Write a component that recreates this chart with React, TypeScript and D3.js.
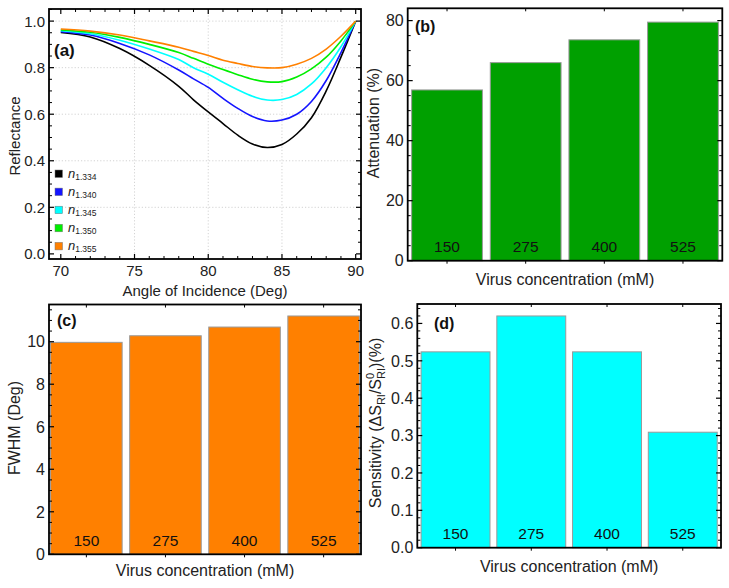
import * as d3 from 'd3';

const FONT = '"Liberation Sans", Arial, sans-serif';

// (a) reflectance curves
const angles = [70, 72, 74, 76, 78, 79, 80, 81, 82, 83, 84, 85, 86, 87, 88, 89, 90];
const refl1334 = [0.951, 0.932, 0.882, 0.81, 0.72, 0.662, 0.61, 0.56, 0.51, 0.472, 0.457, 0.47, 0.515, 0.585, 0.7, 0.845, 1.0];
const refl1340 = [0.955, 0.94, 0.904, 0.855, 0.79, 0.752, 0.715, 0.668, 0.625, 0.59, 0.571, 0.575, 0.6, 0.655, 0.745, 0.865, 1.0];
const refl1345 = [0.959, 0.946, 0.918, 0.88, 0.835, 0.8, 0.772, 0.737, 0.705, 0.677, 0.661, 0.663, 0.685, 0.73, 0.8, 0.89, 1.0];
const refl1350 = [0.962, 0.952, 0.93, 0.9, 0.865, 0.84, 0.815, 0.792, 0.77, 0.75, 0.739, 0.74, 0.76, 0.795, 0.845, 0.915, 1.0];
const refl1355 = [0.966, 0.957, 0.94, 0.915, 0.888, 0.87, 0.852, 0.832, 0.818, 0.805, 0.799, 0.8, 0.815, 0.84, 0.88, 0.935, 1.0];
const indexLabels = ['1.334', '1.340', '1.345', '1.350', '1.355'];
const curveColors = ['#000000', '#1414ff', '#00ffff', '#00ee00', '#ff8000'];
const angleTicks = [70, 75, 80, 85, 90];
const reflTicks = [0, 0.2, 0.4, 0.6, 0.8, 1.0];

// (b)-(d) bar panels
const concentrations = ['150', '275', '400', '525'];
const attenuation = [56.9, 66.0, 73.6, 79.5];
const attenTicks = [0, 20, 40, 60, 80];
const fwhm = [9.97, 10.28, 10.69, 11.21];
const fwhmTicks = [0, 2, 4, 6, 8, 10];
const sensitivity = [0.524, 0.62, 0.524, 0.309];
const sensTicks = [0, 0.1, 0.2, 0.3, 0.4, 0.5, 0.6];

type Lin = d3.ScaleLinear<number, number>;

function YTicks({ y, left, right, major, minorStep, fmt, fs }: {
  y: Lin; left: number; right: number; major: number[]; minorStep: number; fmt: (v: number) => string; fs: number;
}) {
  const [d0, d1] = y.domain();
  const minor = d3.range(Math.ceil(d0 / minorStep) * minorStep, d1, minorStep)
    .filter((v) => !major.some((m) => Math.abs(m - v) < minorStep / 10));
  return (
    <g>
      {minor.map((v, i) => (
        <g key={'m' + i} stroke="#000" strokeWidth={1}>
          <line x1={left} x2={left + 3} y1={y(v)} y2={y(v)} />
          <line x1={right} x2={right - 3} y1={y(v)} y2={y(v)} />
        </g>
      ))}
      {major.map((v, i) => (
        <g key={'M' + i}>
          <line x1={left} x2={left + 5} y1={y(v)} y2={y(v)} stroke="#000" strokeWidth={1.2} />
          <line x1={right} x2={right - 5} y1={y(v)} y2={y(v)} stroke="#000" strokeWidth={1.2} />
          <text x={left - 4} y={y(v)} dy="0.36em" textAnchor="end" fontSize={fs} fill="#222">{fmt(v)}</text>
        </g>
      ))}
    </g>
  );
}

function Frame({ l, r, t, b }: { l: number; r: number; t: number; b: number }) {
  return <rect x={l} y={t} width={r - l} height={b - t} fill="none" stroke="#000" strokeWidth={1.8} />;
}

function BarPanel({ l, r, t, b, values, max, ticks, minorStep, fmt, color, pi, po, label, ylabel, ylabelX, ylabelY, xlabelY, labelX, labelY }: any) {
  const x = d3.scaleBand<string>().domain(concentrations).range([l, r]).paddingInner(pi).paddingOuter(po);
  const y = d3.scaleLinear().domain([0, max]).range([b, t]);
  return (
    <g>
      {concentrations.map((c, i) => {
        const cx = (x(c) as number) + x.bandwidth() / 2;
        return (
          <g key={c}>
            <rect x={x(c)} y={y(values[i])} width={x.bandwidth()} height={b - y(values[i])} fill={color} stroke="#9a9a9a" strokeWidth={1} />
            <text x={cx} y={b - 8.5} textAnchor="middle" fontSize={15.5} fill="#111">{c}</text>
            <line x1={cx} x2={cx} y1={b} y2={b + 3} stroke="#000" />
            <line x1={cx} x2={cx} y1={t} y2={t + 3} stroke="#000" />
          </g>
        );
      })}
      <YTicks y={y} left={l} right={r} major={ticks} minorStep={minorStep} fmt={fmt} fs={16} />
      <Frame l={l} r={r} t={t} b={b} />
      <text x={labelX} y={labelY} fontSize={16} fontWeight="bold" fill="#111">{label}</text>
      <text x={(l + r) / 2} y={xlabelY} textAnchor="middle" fontSize={16} fill="#222">Virus concentration (mM)</text>
      <text transform={`translate(${ylabelX},${ylabelY}) rotate(-90)`} textAnchor="middle" fontSize={16} fill="#222">{ylabel}</text>
    </g>
  );
}

export default function App() {
  // panel (a)
  const aL = 49, aR = 361, aT = 9, aB = 259;
  const ax = d3.scaleLinear().domain([69.2, 90.36]).range([aL, aR]);
  const ay = d3.scaleLinear().domain([-0.022, 1.052]).range([aB, aT]);
  const series = [refl1334, refl1340, refl1345, refl1350, refl1355];
  const line = d3.line<number>()
    .x((_, i) => ax(angles[i]))
    .y((v) => ay(v))
    .curve(d3.curveCatmullRom.alpha(0.5));
  const minorX = d3.range(70, 91, 1).filter((v) => !angleTicks.includes(v));

  return (
    <svg width={729} height={588} style={{ position: 'absolute', left: 0, top: 0, background: '#fff' }} fontFamily={FONT}>
      {/* (a) */}
      <g>
        {angleTicks.slice(1, 4).map((v) => (
          <line key={'gx' + v} x1={ax(v)} x2={ax(v)} y1={aT} y2={aB} stroke="#c8c8c8" strokeWidth={0.8} strokeDasharray="1.2,2" />
        ))}
        {reflTicks.slice(1).map((v) => (
          <line key={'gy' + v} x1={aL} x2={aR} y1={ay(v)} y2={ay(v)} stroke="#c8c8c8" strokeWidth={0.8} strokeDasharray="1.2,2" />
        ))}
        {series.map((s, i) => (
          <path key={i} d={line(s) as string} fill="none" stroke={curveColors[i]} strokeWidth={1.6} />
        ))}
        {minorX.map((v) => (
          <g key={'mx' + v} stroke="#000">
            <line x1={ax(v)} x2={ax(v)} y1={aB} y2={aB - 3} />
            <line x1={ax(v)} x2={ax(v)} y1={aT} y2={aT + 3} />
          </g>
        ))}
        {angleTicks.map((v) => (
          <g key={'Mx' + v}>
            <line x1={ax(v)} x2={ax(v)} y1={aB} y2={aB - 5} stroke="#000" strokeWidth={1.2} />
            <line x1={ax(v)} x2={ax(v)} y1={aT} y2={aT + 5} stroke="#000" strokeWidth={1.2} />
            <text x={ax(v)} y={276} textAnchor="middle" fontSize={15} fill="#222">{v}</text>
          </g>
        ))}
        <YTicks y={ay} left={aL} right={aR} major={reflTicks} minorStep={0.05} fmt={d3.format('.1f')} fs={15} />
        <Frame l={aL} r={aR} t={aT} b={aB} />
        <text x={54} y={56} fontSize={17} fontWeight="bold" fill="#111">(a)</text>
        {indexLabels.map((lab, i) => (
          <g key={lab}>
            <rect x={55} y={170 + i * 18.1} width={7.5} height={7.5} fill={curveColors[i]} stroke="#777" strokeWidth={0.5} />
            <text x={68} y={177.5 + i * 18.1} fontSize={13} fill="#222">
              <tspan fontStyle="italic">n</tspan>
              <tspan fontSize={8.5} dy={2.5}>{lab}</tspan>
            </text>
          </g>
        ))}
        <text x={(aL + aR) / 2} y={296} textAnchor="middle" fontSize={15} fill="#222">Angle of Incidence (Deg)</text>
        <text transform="translate(20,136) rotate(-90)" textAnchor="middle" fontSize={15} fill="#222">Reflectance</text>
      </g>

      {/* (b) */}
      <BarPanel l={407.7} r={722.3} t={8.3} b={260.7} values={attenuation} max={84.1} ticks={attenTicks} minorStep={5}
        fmt={d3.format('d')} color="#00a000" pi={0.1} po={0.05} label="(b)" ylabel="Attenuation (%)"
        ylabelX={379} ylabelY={123} xlabelY={285} labelX={415} labelY={32} />

      {/* (c) */}
      <BarPanel l={49} r={361} t={304.5} b={554.3} values={fwhm} max={11.75} ticks={fwhmTicks} minorStep={0.5}
        fmt={d3.format('d')} color="#ff8000" pi={0.095} po={0.02} label="(c)" ylabel="FWHM (Deg)"
        ylabelX={20} ylabelY={428} xlabelY={576} labelX={57} labelY={326} />

      {/* (d) */}
      <BarPanel l={417.3} r={721} t={304} b={547.7} values={sensitivity} max={0.652} ticks={sensTicks} minorStep={0.02}
        fmt={d3.format('.1f')} color="#00ffff" pi={0.09} po={0.05} label="(d)"
        ylabel={<>
          Sensitivity (ΔS<tspan fontSize={11} dy={4}>RI</tspan>
          <tspan dy={-4}>/S</tspan>
          <tspan fontSize={11} dy={-7}>0</tspan>
          <tspan fontSize={11} dx={-6.1} dy={11}>RI</tspan>
          <tspan dy={-4}>)(%)</tspan>
        </>}
        ylabelX={381} ylabelY={423} xlabelY={572} labelX={434} labelY={329} />
    </svg>
  );
}
